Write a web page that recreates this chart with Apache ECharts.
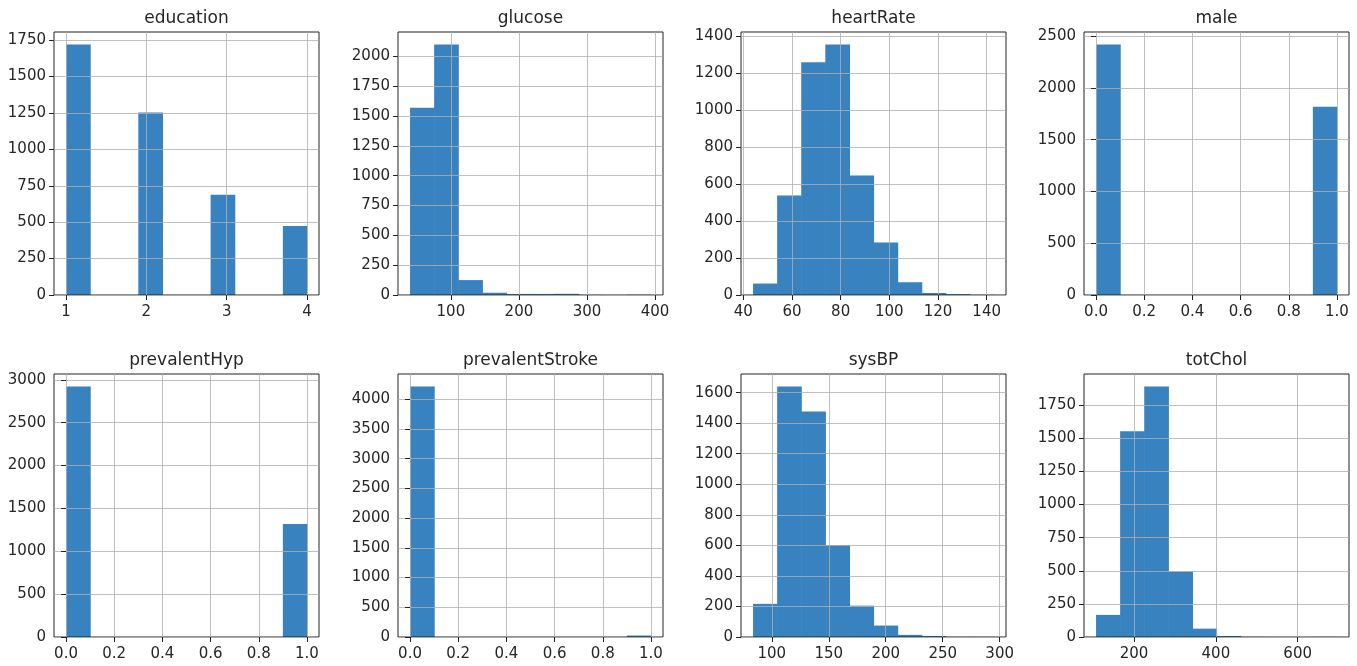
<!DOCTYPE html>
<html>
<head>
<meta charset="utf-8">
<title>Histograms</title>
<script src="https://cdn.jsdelivr.net/npm/echarts@6/dist/echarts.min.js"></script>
<style>
html, body { margin: 0; padding: 0; background: #fff; }
#main { width: 1357px; height: 666px; }
</style>
</head>
<body>
<div id="main"></div>
<script>
// panel titles, in grid order
var titles = ['education', 'glucose', 'heartRate', 'male',
              'prevalentHyp', 'prevalentStroke', 'sysBP', 'totChol'];

// counts per bin (10 equal bins between min and max of each column)
var educationCounts = [1720, 0, 0, 1253, 0, 0, 689, 0, 0, 473];
var glucoseCounts = [1570, 2100, 125, 19, 9, 9, 10, 1, 0, 2];
var heartRateCounts = [62, 539, 1260, 1356, 647, 284, 69, 11, 5, 1];
var maleCounts = [2420, 0, 0, 0, 0, 0, 0, 0, 0, 1820];
var prevalentHypCounts = [2922, 0, 0, 0, 0, 0, 0, 0, 0, 1318];
var prevalentStrokeCounts = [4215, 0, 0, 0, 0, 0, 0, 0, 0, 25];
var sysBPCounts = [217, 1640, 1477, 603, 205, 75, 14, 7, 1, 1];
var totCholCounts = [167, 1553, 1891, 495, 63, 8, 1, 0, 0, 1];

// data range (min, max) of each column
var educationRange = [1, 4];
var glucoseRange = [40, 394];
var heartRateRange = [44, 143];
var maleRange = [0, 1];
var prevalentHypRange = [0, 1];
var prevalentStrokeRange = [0, 1];
var sysBPRange = [83.5, 295];
var totCholRange = [107, 696];

// tick labels
var educationXTicks = [1, 2, 3, 4];
var glucoseXTicks = [100, 200, 300, 400];
var heartRateXTicks = [40, 60, 80, 100, 120, 140];
var binaryXTicks = [0, 0.2, 0.4, 0.6, 0.8, 1.0];
var sysBPXTicks = [100, 150, 200, 250, 300];
var totCholXTicks = [200, 400, 600];

var educationYTicks = [0, 250, 500, 750, 1000, 1250, 1500, 1750];
var glucoseYTicks = [0, 250, 500, 750, 1000, 1250, 1500, 1750, 2000];
var heartRateYTicks = [0, 200, 400, 600, 800, 1000, 1200, 1400];
var maleYTicks = [0, 500, 1000, 1500, 2000, 2500];
var prevalentHypYTicks = [0, 500, 1000, 1500, 2000, 2500, 3000];
var prevalentStrokeYTicks = [0, 500, 1000, 1500, 2000, 2500, 3000, 3500, 4000];
var sysBPYTicks = [0, 200, 400, 600, 800, 1000, 1200, 1400, 1600];
var totCholYTicks = [0, 250, 500, 750, 1000, 1250, 1500, 1750];

var panels = [
    {counts: educationCounts, range: educationRange, xTicks: educationXTicks, yTicks: educationYTicks, dec: 0},
    {counts: glucoseCounts, range: glucoseRange, xTicks: glucoseXTicks, yTicks: glucoseYTicks, dec: 0},
    {counts: heartRateCounts, range: heartRateRange, xTicks: heartRateXTicks, yTicks: heartRateYTicks, dec: 0},
    {counts: maleCounts, range: maleRange, xTicks: binaryXTicks, yTicks: maleYTicks, dec: 1},
    {counts: prevalentHypCounts, range: prevalentHypRange, xTicks: binaryXTicks, yTicks: prevalentHypYTicks, dec: 1},
    {counts: prevalentStrokeCounts, range: prevalentStrokeRange, xTicks: binaryXTicks, yTicks: prevalentStrokeYTicks, dec: 1},
    {counts: sysBPCounts, range: sysBPRange, xTicks: sysBPXTicks, yTicks: sysBPYTicks, dec: 0},
    {counts: totCholCounts, range: totCholRange, xTicks: totCholXTicks, yTicks: totCholYTicks, dec: 0}
];

var colLeft = [54, 398, 741, 1084];
var rowTop = [32, 374];
var boxW = 265, boxH = 263;
var barColor = '#3882c0';
var textColor = '#262626';
var font = 'DejaVu Sans';

function binRows(counts, range) {
    var w = (range[1] - range[0]) / counts.length;
    return counts.map(function (c, i) {
        return [range[0] + i * w, range[0] + (i + 1) * w, c];
    });
}

function renderBin(params, api) {
    if (!api.value(2)) {
        return null;
    }
    var p0 = api.coord([api.value(0), 0]);
    var p1 = api.coord([api.value(1), api.value(2)]);
    // a little overlap so neighbouring bins don't leave a seam
    return {
        type: 'rect',
        shape: {x: p0[0], y: p1[1], width: p1[0] - p0[0] + 0.6, height: p0[1] - p1[1]},
        style: {fill: barColor}
    };
}

var grids = [], xAxes = [], yAxes = [], series = [], heads = [];

panels.forEach(function (p, i) {
    var col = i % 4, row = Math.floor(i / 4);
    var span = p.range[1] - p.range[0];
    var dec = p.dec;
    grids.push({
        left: colLeft[col], top: rowTop[row], width: boxW, height: boxH,
        show: true, borderColor: '#222', borderWidth: 1, z: 3
    });
    xAxes.push({
        type: 'value', gridIndex: i, z: 3,
        min: p.range[0] - 0.05 * span,
        max: p.range[1] + 0.05 * span,
        axisLine: {show: false},
        axisTick: {show: true, length: 5, inside: false, customValues: p.xTicks,
                   lineStyle: {color: '#222', width: 1}},
        axisLabel: {customValues: p.xTicks, margin: 10, color: textColor, fontFamily: font, fontSize: 15,
                    formatter: function (v) { return Number(v).toFixed(dec); }},
        splitLine: {show: true, lineStyle: {color: '#b0b0b0', width: 0.8}}
    });
    yAxes.push({
        type: 'value', gridIndex: i, z: 3,
        min: 0,
        max: Math.max.apply(null, p.counts) * 1.05,
        axisLine: {show: false},
        axisTick: {show: true, length: 5, inside: false, customValues: p.yTicks,
                   lineStyle: {color: '#222', width: 1}},
        axisLabel: {customValues: p.yTicks, margin: 8, color: textColor, fontFamily: font, fontSize: 15,
                    formatter: function (v) { return String(v); }},
        splitLine: {show: true, lineStyle: {color: '#b0b0b0', width: 0.8}}
    });
    series.push({
        type: 'custom', name: titles[i], xAxisIndex: i, yAxisIndex: i, z: 2,
        renderItem: renderBin,
        encode: {x: [0, 1], y: 2},
        data: binRows(p.counts, p.range),
        silent: true
    });
    heads.push({
        text: titles[i], left: colLeft[col] + boxW / 2, top: row === 0 ? 10 : 352,
        textAlign: 'center', padding: 0,
        textStyle: {color: textColor, fontFamily: font, fontSize: 17, fontWeight: 'normal'}
    });
});

var myChart = echarts.init(document.getElementById('main'));
myChart.setOption({
    animation: false,
    backgroundColor: '#fff',
    title: heads,
    grid: grids,
    xAxis: xAxes,
    yAxis: yAxes,
    series: series
});
</script>
</body>
</html>
